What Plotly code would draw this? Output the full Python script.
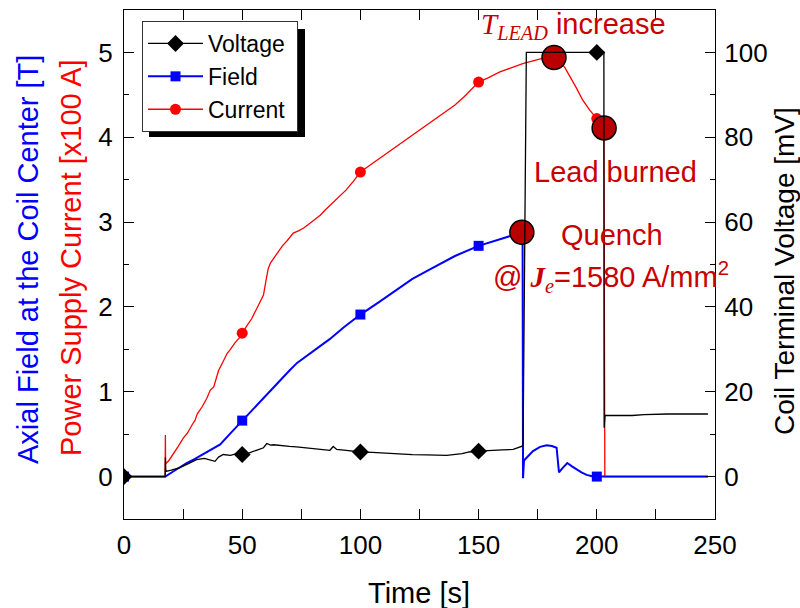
import numpy as np
import plotly.graph_objects as go

# ---------------- data ----------------
# Power supply current [x100 A] (left axis)
cur_t = [0, 17.4, 17.5, 17.6, 19, 21, 23, 25, 27, 29, 30, 31, 33, 35, 36.5, 38, 40, 42, 43.6,
         45, 47, 49, 50, 52, 54, 56, 58, 59, 60, 61, 62, 63, 64.8, 67, 69, 71.6, 74, 76, 78.8,
         81, 83, 85, 88, 91, 94, 97, 100, 104, 108, 112, 116, 120, 124, 128, 132, 136, 140,
         144, 147, 150, 154, 159, 164, 169, 173, 177, 182, 184, 186.5, 189, 191, 194, 197,
         200, 203, 203.4, 247]
cur_v = [0, 0, 0.49, 0.15, 0.19, 0.27, 0.36, 0.45, 0.52, 0.62, 0.66, 0.74, 0.82, 0.92, 1.02,
         1.06, 1.25, 1.36, 1.45, 1.50, 1.58, 1.64, 1.69, 1.78, 1.86, 1.98, 2.08, 2.14, 2.30,
         2.45, 2.52, 2.56, 2.63, 2.72, 2.78, 2.87, 2.90, 2.93, 2.99, 3.04, 3.08, 3.14, 3.22,
         3.30, 3.38, 3.48, 3.59, 3.67, 3.75, 3.83, 3.91, 3.99, 4.07, 4.15, 4.22, 4.30, 4.38,
         4.48, 4.56, 4.65, 4.70, 4.77, 4.82, 4.87, 4.90, 4.93, 4.94, 4.90, 4.82, 4.70, 4.60,
         4.44, 4.32, 4.22, 4.10, 0, 0]

# Axial field at the coil center [T] (left axis)
fld_t = [0, 17.5, 20.8, 23.5, 26.5, 30, 35, 40.7, 45, 50, 55, 60, 65, 70, 73.2, 80, 87, 93,
         100, 108, 115, 122, 130, 140, 150, 160, 168.6, 168.8, 169.2, 173, 176,
         178.8, 181, 183, 184, 185.5, 187.5, 189.5, 191.5, 193.5, 195.7, 198, 200, 247]
fld_v = [0, 0, 0.06, 0.11, 0.16, 0.21, 0.29, 0.38, 0.51, 0.66, 0.80, 0.95, 1.10, 1.25, 1.34,
         1.48, 1.62, 1.76, 1.91, 2.06, 2.20, 2.33, 2.45, 2.60, 2.72, 2.81,
         2.88, -0.02, 0.19, 0.30, 0.35, 0.37, 0.36, 0.34, 0.05, 0.10, 0.16, 0.12, 0.08, 0.05,
         0.02, 0.003, 0, 0]

# Coil terminal voltage [mV] (right axis)
vol_t = [0, 17.4, 17.5, 17.7, 20, 23.7, 27, 30.7, 34, 36, 38.5, 40, 42, 45, 47.7, 50, 53, 56,
         59, 60.4, 62, 63.2, 66, 70, 73, 78, 82, 87.1, 88.5, 90, 94, 97, 100, 105, 110, 115,
         122, 128, 136.5, 143, 146, 150, 155, 160, 164.6, 168.2, 168.8, 170.2, 203, 203.1,
         203.5, 215, 220, 230, 247]
vol_v = [0, 0, 4.5, 1.2, 1.5, 2.1, 3.0, 4.0, 4.3, 4.0, 3.6, 4.6, 5.2, 5.0, 5.4, 5.2, 5.6, 6.2,
         6.8, 7.8, 7.4, 7.5, 7.3, 7.1, 7.0, 6.7, 6.5, 6.2, 7.1, 6.4, 6.2, 6.0, 5.8, 5.7, 5.5,
         5.4, 5.2, 5.1, 5.0, 5.4, 5.8, 6.0, 6.2, 6.3, 6.4, 7.1, 7.5, 100, 100, 11.5, 14.4,
         14.4, 14.6, 14.75, 14.75]

marker_t = [0, 50, 100, 150, 200]

# event points (time, value on left axis)
event_t = [168.3, 181.9, 203.1]
event_v = [2.88, 4.94, 4.11]

x_ticks = [0, 50, 100, 150, 200, 250]
yl_ticks = [0, 1, 2, 3, 4, 5]
yr_ticks = [0, 20, 40, 60, 80, 100]

# ---------------- figure ----------------
FONT = "Arial, Liberation Sans, sans-serif"
RED, BLUE, BLK = "#ff0000", "#0000ff", "#000000"
ANN = "#c80000"

fig = go.Figure()

fig.add_trace(go.Scatter(x=cur_t, y=cur_v, mode="lines", line=dict(color=RED, width=1.3),
                         showlegend=False, hoverinfo="skip"))
fig.add_trace(go.Scatter(x=marker_t, y=np.interp(marker_t, cur_t, cur_v), mode="markers",
                         marker=dict(symbol="circle", size=11, color=RED), showlegend=False))
fig.add_trace(go.Scatter(x=fld_t, y=fld_v, mode="lines", line=dict(color=BLUE, width=2),
                         showlegend=False, hoverinfo="skip"))
fig.add_trace(go.Scatter(x=marker_t, y=np.interp(marker_t, fld_t, fld_v), mode="markers",
                         marker=dict(symbol="square", size=10, color=BLUE), showlegend=False))
fig.add_trace(go.Scatter(x=vol_t, y=vol_v, mode="lines", line=dict(color=BLK, width=1.3),
                         yaxis="y2", showlegend=False, hoverinfo="skip"))
fig.add_trace(go.Scatter(x=marker_t, y=np.interp(marker_t, vol_t, vol_v), mode="markers",
                         marker=dict(symbol="diamond", size=13, color=BLK), yaxis="y2",
                         showlegend=False))

fig.add_trace(go.Scatter(x=event_t, y=event_v, mode="markers",
                         marker=dict(symbol="circle", size=24, color="#b80000",
                                     line=dict(color="black", width=1.5)),
                         showlegend=False))

# legend entries
fig.add_trace(go.Scatter(x=[None], y=[None], mode="lines+markers", name="Voltage&nbsp;",
                         line=dict(color=BLK, width=1.3),
                         marker=dict(symbol="diamond", size=13, color=BLK), legendrank=1))
fig.add_trace(go.Scatter(x=[None], y=[None], mode="lines+markers", name="Field",
                         line=dict(color=BLUE, width=2),
                         marker=dict(symbol="square", size=10, color=BLUE), legendrank=2))
fig.add_trace(go.Scatter(x=[None], y=[None], mode="lines+markers", name="Current",
                         line=dict(color=RED, width=1.3),
                         marker=dict(symbol="circle", size=11, color=RED), legendrank=3))

L, R, T, B = 124, 85, 10, 89
W, H = 800, 608
PW, PH = W - L - R, H - T - B


def px(x):
    return (x - L) / PW


def py(y):
    return (H - B - y) / PH


axis_common = dict(showgrid=False, zeroline=False, showline=True, linecolor="black",
                   linewidth=1.3, ticks="inside", ticklen=10, tickcolor="black",
                   tickwidth=1.3, tickfont=dict(size=26, color="black", family=FONT))

fig.update_layout(
    width=W, height=H,
    margin=dict(l=L, r=R, t=T, b=B),
    paper_bgcolor="white", plot_bgcolor="white",
    font=dict(family=FONT, color="black"),
    xaxis=dict(range=[0, 250], tickvals=x_ticks, mirror="allticks",
               minor=dict(dtick=25, ticklen=5, ticks="inside", tickcolor="black"),
               ticklabelstandoff=3, **axis_common),
    yaxis=dict(range=[-0.5, 5.5], tickvals=yl_ticks,
               minor=dict(dtick=0.5, ticklen=5, ticks="inside", tickcolor="black"),
               ticklabelstandoff=5, **axis_common),
    yaxis2=dict(range=[-10, 110], tickvals=yr_ticks, overlaying="y", side="right",
                minor=dict(dtick=10, ticklen=5, ticks="inside", tickcolor="black"),
                ticklabelstandoff=3, **axis_common),
    legend=dict(x=px(142), y=py(21), xanchor="left", yanchor="top",
                bgcolor="white", bordercolor="#333333", borderwidth=1,
                font=dict(size=23, family=FONT, color="black"), itemwidth=55,
                tracegroupgap=0),
    showlegend=True,
)

# legend shadow (offset ~7 px down/right of the legend box)
fig.add_shape(type="rect", xref="paper", yref="paper", x0=px(149), x1=px(305),
              y0=py(137), y1=py(29), fillcolor="black", line=dict(width=0), layer="above")

SERIF = "Liberation Serif"
anns = [
    dict(text="Time [s]", x=px(419), y=py(593), font=dict(size=29, color="black")),
    dict(text="Coil Terminal Voltage [mV]", x=px(784), y=py(271), textangle=-90,
         font=dict(size=28, color="black")),
    dict(text="Axial Field at the Coil Center [T]", x=px(28), y=py(260), textangle=-90,
         font=dict(size=29, color=BLUE)),
    dict(text="Power Supply Current [x100 A]", x=px(71), y=py(258), textangle=-90,
         font=dict(size=29, color=RED)),
    dict(text=f"<span style='font-family:{SERIF}'><i>T<sub>LEAD</sub></i></span> increase",
         x=px(573), y=py(26), font=dict(size=29, color=ANN)),
    dict(text="Lead burned", x=px(615), y=py(172), font=dict(size=29, color=ANN)),
    dict(text="Quench", x=px(612), y=py(235), font=dict(size=29, color=ANN)),
    dict(text=f"@ <span style='font-family:{SERIF}'><b><i>J</i></b><sub><i>e</i></sub></span>=1580 A/mm<sup>2</sup>",
         x=px(611), y=py(277), font=dict(size=29, color=ANN)),
]
for a in anns:
    a.update(xref="paper", yref="paper", showarrow=False, xanchor="center", yanchor="middle")
    fig.add_annotation(**a)

fig.write_html("out.html")
